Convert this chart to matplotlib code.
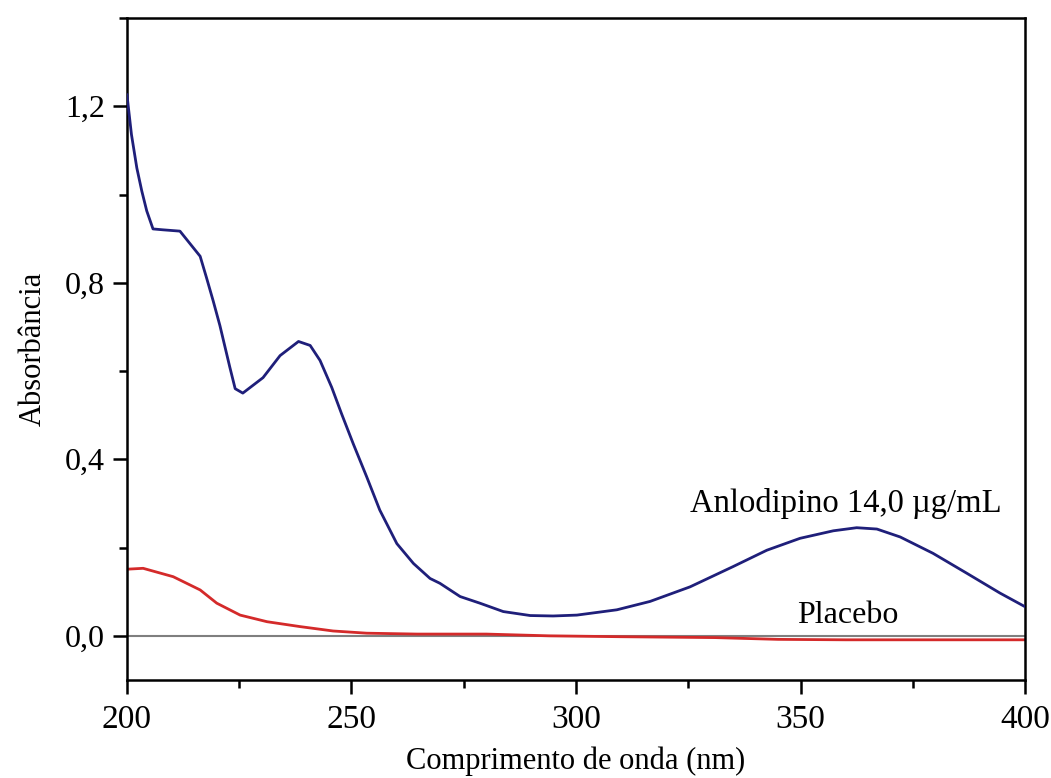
import matplotlib
matplotlib.use("Agg")
import matplotlib.pyplot as plt
from matplotlib.ticker import MultipleLocator, FuncFormatter

# Data
wl_anlo = [200, 201, 202.2, 203.3, 204.4, 205.8, 208, 211.8, 216.3, 217.7, 219.2, 220.7,
           222.9, 224.1, 225.8, 230.3, 234.1, 238.2, 240.8, 243, 245.6, 247.8, 250.4,
           253.4, 256.3, 260.1, 263.8, 267.5, 269.7, 274.2, 278.6, 283.8, 289.8, 294.9,
           300.2, 309.1, 316.5, 325.4, 335, 342.5, 349.9, 357.3, 362.5, 367,
           372.2, 379.5, 387, 394.4, 400]
abs_anlo = [1.226, 1.136, 1.06, 1.008, 0.963, 0.922, 0.92, 0.917, 0.86, 0.812, 0.759, 0.703,
            0.609, 0.56, 0.55, 0.585, 0.635, 0.667, 0.658, 0.624, 0.563, 0.503, 0.435,
            0.36, 0.285, 0.209, 0.164, 0.130, 0.119, 0.089, 0.074, 0.055, 0.046, 0.045,
            0.047, 0.059, 0.078, 0.111, 0.157, 0.194, 0.221, 0.238, 0.245, 0.242,
            0.224, 0.187, 0.142, 0.097, 0.066]

wl_plac = [200, 203.6, 210.3, 216.3, 220, 225.2, 231.2, 238.5, 245.9, 253.4, 264.6,
           280, 294, 310, 331, 345, 360, 380, 400]
abs_plac = [0.151, 0.153, 0.134, 0.104, 0.074, 0.047, 0.032, 0.021, 0.011, 0.006, 0.004,
            0.004, 0.0, -0.002, -0.004, -0.008, -0.009, -0.009, -0.009]

xticks = [200, 250, 300, 350, 400]
yticks = [0.0, 0.4, 0.8, 1.2]

label_anlo = "Anlodipino 14,0 µg/mL"
label_plac = "Placebo"

plt.rcParams['font.family'] = ['Liberation Serif', 'DejaVu Serif']

fig = plt.figure(figsize=(10.51, 7.78), dpi=100)
ax = fig.add_axes([0.1208, 0.1260, 0.8545, 0.8509])

ax.axhline(0, color='#7f7f7f', lw=1.5, zorder=1)
ax.plot(wl_plac, abs_plac, color='#d42a2a', lw=2.0, zorder=2, solid_joinstyle='round')
ax.plot(wl_anlo, abs_anlo, color='#1f1f7a', lw=2.0, zorder=3, solid_joinstyle='round')

ax.set_xlim(200, 400)
ax.set_ylim(-0.1, 1.4)
ax.set_xticks(xticks)
ax.set_yticks(yticks)
ax.xaxis.set_minor_locator(MultipleLocator(25))
ax.yaxis.set_minor_locator(MultipleLocator(0.2))
ax.yaxis.set_major_formatter(FuncFormatter(lambda v, p: f"{v:.1f}".replace('.', ',')))
ax.tick_params(which='major', direction='out', length=10, width=1.8, labelsize=23, pad=6)
ax.tick_params(which='minor', direction='out', length=6, width=1.8)
ax.tick_params(axis='x', labelsize=24, pad=8)
for s in ax.spines.values():
    s.set_linewidth(1.8)

ax.set_xlabel("Comprimento de onda (nm)", fontsize=22, labelpad=8)
ax.set_ylabel("Absorbância", fontsize=22, labelpad=12)

ax.text(360, 0.30, label_anlo, fontsize=23.5, ha='center', va='center')
ax.text(360.5, 0.045, label_plac, fontsize=23, ha='center', va='center')

fig.savefig("out.png", dpi=100)
